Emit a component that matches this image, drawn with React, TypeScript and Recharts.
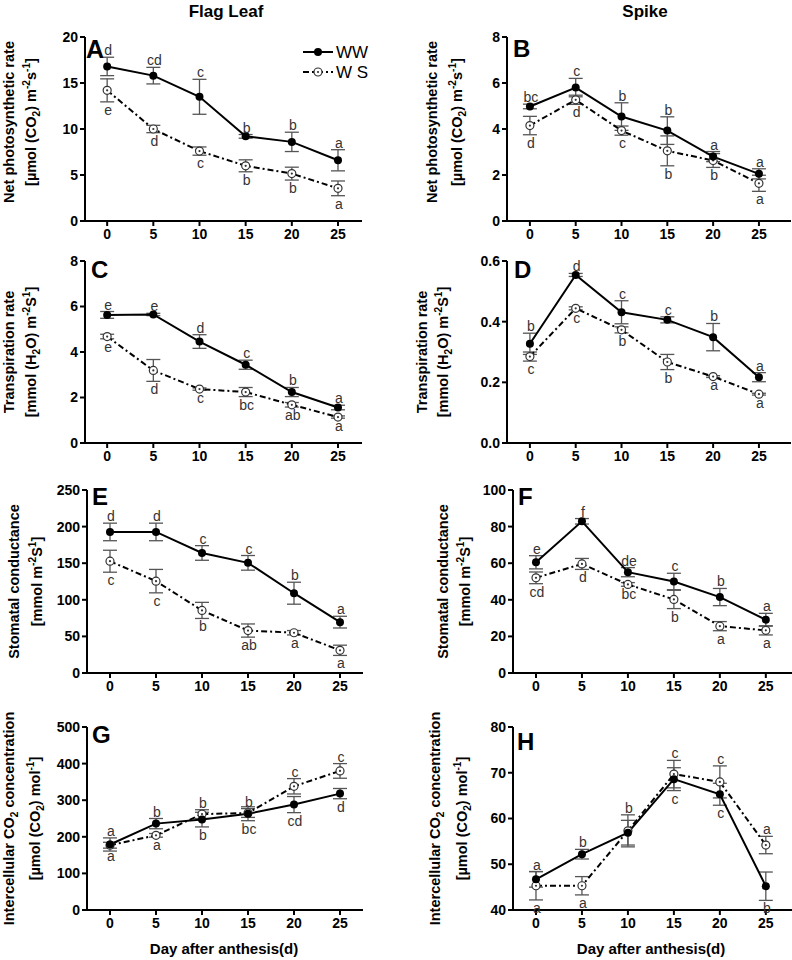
import React from 'react';
import { LineChart, Line, XAxis, YAxis, ErrorBar, Legend } from 'recharts';

// ---------- data ----------
const days = [0, 5, 10, 15, 20, 25];

// A: Flag leaf net photosynthetic rate
const pnLeafWW = [16.8, 15.8, 13.5, 9.2, 8.6, 6.6];
const pnLeafWWErr = [1.0, 0.9, 1.9, 0.2, 1.05, 1.15];
const pnLeafWS = [14.2, 10.0, 7.6, 6.0, 5.15, 3.55];
const pnLeafWSErr = [1.25, 0.4, 0.45, 0.65, 0.7, 0.8];
const pnLeafWWLetters = ['d', 'cd', 'c', 'b', 'b', 'a'];
const pnLeafWSLetters = ['e', 'd', 'c', 'b', 'b', 'a'];

// B: Spike net photosynthetic rate
const pnSpikeWW = [4.98, 5.8, 4.54, 3.93, 2.8, 2.05];
const pnSpikeWWErr = [0.1, 0.4, 0.6, 0.6, 0.22, 0.22];
const pnSpikeWS = [4.15, 5.27, 3.93, 3.05, 2.63, 1.64];
const pnSpikeWSErr = [0.4, 0.2, 0.2, 0.65, 0.3, 0.35];
const pnSpikeWWLetters = ['bc', 'c', 'b', 'b', 'a', 'a'];
const pnSpikeWSLetters = ['d', 'd', 'c', 'b', 'b', 'a'];

// C: Flag leaf transpiration rate
const trLeafWW = [5.63, 5.65, 4.46, 3.44, 2.24, 1.56];
const trLeafWWErr = [0.15, 0.05, 0.3, 0.2, 0.2, 0.1];
const trLeafWS = [4.68, 3.19, 2.37, 2.24, 1.68, 1.14];
const trLeafWSErr = [0.1, 0.48, 0.05, 0.2, 0.1, 0.05];
const trLeafWWLetters = ['e', 'e', 'd', 'c', 'b', 'a'];
const trLeafWSLetters = ['e', 'd', 'c', 'bc', 'ab', 'a'];

// D: Spike transpiration rate
const trSpikeWW = [0.327, 0.554, 0.431, 0.406, 0.349, 0.217];
const trSpikeWWErr = [0.035, 0.005, 0.038, 0.01, 0.045, 0.015];
const trSpikeWS = [0.285, 0.444, 0.373, 0.267, 0.219, 0.161];
const trSpikeWSErr = [0.015, 0.005, 0.01, 0.025, 0.003, 0.003];
const trSpikeWWLetters = ['b', 'd', 'c', 'c', 'b', 'a'];
const trSpikeWSLetters = ['c', 'c', 'b', 'b', 'a', 'a'];

// E: Flag leaf stomatal conductance
const gsLeafWW = [192.7, 192.7, 164, 150.5, 109, 69.5];
const gsLeafWWErr = [12, 12, 10, 10, 15, 8];
const gsLeafWS = [152.7, 125.5, 85.5, 58, 55, 31];
const gsLeafWSErr = [15, 16, 11, 9, 3, 7];
const gsLeafWWLetters = ['d', 'd', 'c', 'c', 'b', 'a'];
const gsLeafWSLetters = ['c', 'c', 'b', 'ab', 'a', 'a'];

// F: Spike stomatal conductance
const gsSpikeWW = [60.5, 82.9, 55.1, 50, 41.5, 29.1];
const gsSpikeWWErr = [3.6, 1.5, 2.5, 4.5, 4.7, 3.5];
const gsSpikeWS = [52, 59.6, 48.4, 40.2, 25.6, 23.3];
const gsSpikeWSErr = [3.2, 3, 1, 5, 2.5, 2.5];
const gsSpikeWWLetters = ['e', 'f', 'de', 'c', 'b', 'a'];
const gsSpikeWSLetters = ['cd', 'd', 'bc', 'b', 'a', 'a'];

// G: Flag leaf intercellular CO2
const ciLeafWW = [179, 236, 247, 263, 288, 318];
const ciLeafWWErr = [18, 14, 20, 19, 22, 14];
const ciLeafWS = [177, 204, 262, 265, 338, 380];
const ciLeafWSErr = [8, 5, 12, 12, 21, 20];
const ciLeafWWLetters = ['a', 'b', 'b', 'bc', 'cd', 'd'];
const ciLeafWSLetters = ['a', 'a', 'b', 'b', 'c', 'c'];

// H: Spike intercellular CO2
const ciSpikeWW = [46.7, 52.2, 56.9, 68.6, 65.3, 45.2];
const ciSpikeWWErr = [1.7, 1.05, 2.7, 2.5, 2.4, 3.1];
const ciSpikeWS = [45.3, 45.3, 57.3, 69.7, 68, 54.2];
const ciSpikeWSErr = [3.1, 2, 3.5, 3, 3.5, 1.9];
const ciSpikeWWLetters = ['a', 'b', '', 'c', 'c', 'b'];
const ciSpikeWSLetters = ['a', 'a', 'b', 'c', 'c', 'a'];

// axis ticks
const ticksA = [0, 5, 10, 15, 20];
const ticksB = [0, 2, 4, 6, 8];
const ticksC = [0, 2, 4, 6, 8];
const ticksD = [0, 0.2, 0.4, 0.6];
const ticksE = [0, 50, 100, 150, 200, 250];
const ticksF = [0, 20, 40, 60, 80, 100];
const ticksG = [0, 100, 200, 300, 400, 500];
const ticksH = [40, 50, 60, 70, 80];

const seriesNames = ['WW', 'W S'];
const columnTitles = ['Flag Leaf', 'Spike'];
const xTitle = 'Day after anthesis(d)';

type Seg = { t: string; s?: 'sub' | 'sup' };
const titlePn: Seg[][] = [
  [{ t: 'Net photosynthetic rate' }],
  [{ t: '[µmol (CO' }, { t: '2', s: 'sub' }, { t: ') m' }, { t: '-2', s: 'sup' }, { t: 's' }, { t: '-1', s: 'sup' }, { t: ']' }],
];
const titleTr: Seg[][] = [
  [{ t: 'Transpiration rate' }],
  [{ t: '[mmol (H' }, { t: '2', s: 'sub' }, { t: 'O) m' }, { t: '-2', s: 'sup' }, { t: 'S' }, { t: '1', s: 'sup' }, { t: ']' }],
];
const titleGs: Seg[][] = [
  [{ t: 'Stomatal conductance' }],
  [{ t: '[mmol m' }, { t: '-2', s: 'sup' }, { t: 'S' }, { t: '1', s: 'sup' }, { t: ']' }],
];
const titleCi: Seg[][] = [
  [{ t: 'Intercellular CO' }, { t: '2', s: 'sub' }, { t: ' concentration' }],
  [{ t: '[µmol (CO' }, { t: '2', s: 'sub' }, { t: ') mol' }, { t: '-1', s: 'sup' }, { t: ']' }],
];

// ---------- styling / layout ----------
const FONT = '"Liberation Sans", Arial, Helvetica, sans-serif';
const ERR_COLOR = '#555';
const LETTER_COLOR = '#333';

type Cfg = {
  letter: string; letterPos: [number, number]; letterSize: number;
  cx: number; cy: number; cw: number; ch: number;
  px: number; py: number; pw: number; ph: number;
  xDomain: [number, number]; yDomain: [number, number]; yTicks: number[]; decimals: number;
  title: Seg[][]; titleX: [number, number]; titleShift: number;
  ww: number[]; wwErr: number[]; ws: number[]; wsErr: number[]; wwL: string[]; wsL: string[];
  colTitle?: [string, number]; xTitleX?: number; legend?: boolean;
};

const panels: Cfg[] = [
  {
    letter: 'A', letterPos: [86, 58], letterSize: 25,
    cx: 0, cy: 0, cw: 396, ch: 250, px: 85, py: 37, pw: 277, ph: 184,
    xDomain: [-2.4, 27.6], yDomain: [0, 20], yTicks: ticksA, decimals: 0,
    title: titlePn, titleX: [8.5, 31], titleShift: -7,
    ww: pnLeafWW, wwErr: pnLeafWWErr, ws: pnLeafWS, wsErr: pnLeafWSErr, wwL: pnLeafWWLetters, wsL: pnLeafWSLetters,
    colTitle: [columnTitles[0], 226], legend: true,
  },
  {
    letter: 'B', letterPos: [513, 57], letterSize: 24,
    cx: 396, cy: 0, cw: 410, ch: 250, px: 507, py: 37, pw: 284, ph: 184,
    xDomain: [-2.5, 28.5], yDomain: [0, 8], yTicks: ticksB, decimals: 0,
    title: titlePn, titleX: [432, 457], titleShift: -7,
    ww: pnSpikeWW, wwErr: pnSpikeWWErr, ws: pnSpikeWS, wsErr: pnSpikeWSErr, wwL: pnSpikeWWLetters, wsL: pnSpikeWSLetters,
    colTitle: [columnTitles[1], 645],
  },
  {
    letter: 'C', letterPos: [91, 278], letterSize: 24,
    cx: 0, cy: 245, cw: 396, ch: 225, px: 85, py: 261, pw: 277, ph: 182,
    xDomain: [-2.4, 27.6], yDomain: [0, 8], yTicks: ticksC, decimals: 0,
    title: titleTr, titleX: [9, 31], titleShift: 0,
    ww: trLeafWW, wwErr: trLeafWWErr, ws: trLeafWS, wsErr: trLeafWSErr, wwL: trLeafWWLetters, wsL: trLeafWSLetters,
  },
  {
    letter: 'D', letterPos: [514, 278], letterSize: 24,
    cx: 396, cy: 245, cw: 410, ch: 225, px: 507, py: 261, pw: 284, ph: 182,
    xDomain: [-2.5, 28.5], yDomain: [0, 0.6], yTicks: ticksD, decimals: 1,
    title: titleTr, titleX: [422, 443], titleShift: 0,
    ww: trSpikeWW, wwErr: trSpikeWWErr, ws: trSpikeWS, wsErr: trSpikeWSErr, wwL: trSpikeWWLetters, wsL: trSpikeWSLetters,
  },
  {
    letter: 'E', letterPos: [92, 505], letterSize: 24,
    cx: 0, cy: 470, cw: 396, ch: 230, px: 87, py: 490, pw: 276, ph: 183,
    xDomain: [-2.5, 27.5], yDomain: [0, 250], yTicks: ticksE, decimals: 0,
    title: titleGs, titleX: [14, 37], titleShift: 0,
    ww: gsLeafWW, wwErr: gsLeafWWErr, ws: gsLeafWS, wsErr: gsLeafWSErr, wwL: gsLeafWWLetters, wsL: gsLeafWSLetters,
  },
  {
    letter: 'F', letterPos: [518, 505], letterSize: 24,
    cx: 396, cy: 470, cw: 410, ch: 230, px: 513, py: 490, pw: 285, ph: 183,
    xDomain: [-2.5, 28.5], yDomain: [0, 100], yTicks: ticksF, decimals: 0,
    title: titleGs, titleX: [443, 465], titleShift: 0,
    ww: gsSpikeWW, wwErr: gsSpikeWWErr, ws: gsSpikeWS, wsErr: gsSpikeWSErr, wwL: gsSpikeWWLetters, wsL: gsSpikeWSLetters,
  },
  {
    letter: 'G', letterPos: [92, 743], letterSize: 24,
    cx: 0, cy: 700, cw: 396, ch: 260, px: 87, py: 727, pw: 276, ph: 183,
    xDomain: [-2.5, 27.5], yDomain: [0, 500], yTicks: ticksG, decimals: 0,
    title: titleCi, titleX: [9, 35], titleShift: 0,
    ww: ciLeafWW, wwErr: ciLeafWWErr, ws: ciLeafWS, wsErr: ciLeafWSErr, wwL: ciLeafWWLetters, wsL: ciLeafWSLetters,
    xTitleX: 224,
  },
  {
    letter: 'H', letterPos: [517, 750], letterSize: 24,
    cx: 396, cy: 700, cw: 410, ch: 260, px: 513, py: 727, pw: 285, ph: 183,
    xDomain: [-2.5, 28.5], yDomain: [40, 80], yTicks: ticksH, decimals: 0,
    title: titleCi, titleX: [435, 462], titleShift: 0,
    ww: ciSpikeWW, wwErr: ciSpikeWWErr, ws: ciSpikeWS, wsErr: ciSpikeWSErr, wwL: ciSpikeWWLetters, wsL: ciSpikeWSLetters,
    xTitleX: 651,
  },
];

const YW = 40;
const XH = 25;

function SegText(props: { x: number; y: number; segs: Seg[]; size: number; rotate?: boolean; weight?: string | number }) {
  const { x, y, segs, size, rotate, weight } = props;
  let cur = 0;
  const spans = segs.map((sg, i) => {
    const target = sg.s === 'sub' ? size * 0.3 : sg.s === 'sup' ? -size * 0.4 : 0;
    const dy = target - cur;
    cur = target;
    return (
      <tspan key={i} dy={dy} fontSize={sg.s ? size * 0.7 : size}>
        {sg.t}
      </tspan>
    );
  });
  return (
    <text
      x={x}
      y={y}
      transform={rotate ? `rotate(-90 ${x} ${y})` : undefined}
      textAnchor="middle"
      fontSize={size}
      fontWeight={weight ?? 'bold'}
      fontFamily={FONT}
      fill="#000"
    >
      {spans}
    </text>
  );
}

function WSMarker({ cx, cy }: { cx: number; cy: number }) {
  return (
    <g>
      <circle cx={cx} cy={cy} r={4} fill="#fff" stroke="#333" strokeWidth={1.2} />
      <circle cx={cx} cy={cy} r={1.1} fill="#333" />
    </g>
  );
}

function LegendContent() {
  return (
    <svg width={90} height={42} style={{ display: 'block', overflow: 'visible' }}>
      <line x1={3} y1={10} x2={33} y2={10} stroke="#000" strokeWidth={2} />
      <circle cx={18} cy={10} r={4} fill="#000" />
      <text x={36} y={16} fontSize={17} fontFamily={FONT} fill="#000">{seriesNames[0]}</text>
      <line x1={3} y1={30} x2={33} y2={30} stroke="#000" strokeWidth={2} strokeDasharray="6 3 2 3" />
      <WSMarker cx={18} cy={30} />
      <text x={36} y={36} fontSize={17} fontFamily={FONT} fill="#000">{seriesNames[1]}</text>
    </svg>
  );
}

function Panel({ cfg }: { cfg: Cfg }) {
  const rows = days.map((d, i) => ({
    day: d,
    ww: cfg.ww[i],
    wwErr: cfg.wwErr[i],
    ws: cfg.ws[i],
    wsErr: cfg.wsErr[i],
  }));
  const ppu = cfg.ph / (cfg.yDomain[1] - cfg.yDomain[0]);
  const ox = cfg.cx;
  const oy = cfg.cy;
  const margin = {
    left: cfg.px - cfg.cx - YW,
    top: cfg.py - cfg.cy,
    right: cfg.cx + cfg.cw - cfg.px - cfg.pw,
    bottom: cfg.cy + cfg.ch - cfg.py - cfg.ph - XH,
  };

  const letterEl = (series: 'ww' | 'ws', index: number, x: number, y: number) => {
    const r = rows[index];
    const letters = series === 'ww' ? cfg.wwL : cfg.wsL;
    const txt = letters[index];
    if (!txt) return null;
    const mine = series === 'ww' ? r.ww : r.ws;
    const other = series === 'ww' ? r.ws : r.ww;
    const err = (series === 'ww' ? r.wwErr : r.wsErr) * ppu;
    const above = series === 'ww' ? mine >= other : mine > other;
    const ty = above ? y - err - 2 : y + err + 13;
    return (
      <text x={x + 1} y={ty} textAnchor="middle" fontSize={14} fontFamily={FONT} fill={LETTER_COLOR}>
        {txt}
      </text>
    );
  };

  const renderWW = (p: any) => (
    <g key={`ww-${p.index}`}>
      <circle cx={p.cx} cy={p.cy} r={4} fill="#000" />
      {letterEl('ww', p.index, p.cx, p.cy)}
    </g>
  );
  const renderWS = (p: any) => (
    <g key={`ws-${p.index}`}>
      <WSMarker cx={p.cx} cy={p.cy} />
      {letterEl('ws', p.index, p.cx, p.cy)}
    </g>
  );

  const decor = () => {
    const midY = cfg.py + cfg.ph / 2 + cfg.titleShift - oy;
    return (
      <g>
        {cfg.title.map((segs, i) => (
          <SegText key={i} x={cfg.titleX[i] + 5 - ox} y={midY} segs={segs} size={14.5} rotate />
        ))}
        <text
          x={cfg.letterPos[0] - ox}
          y={cfg.letterPos[1] - oy}
          fontSize={cfg.letterSize}
          fontWeight="bold"
          fontFamily={FONT}
          fill="#000"
        >
          {cfg.letter}
        </text>
        {cfg.colTitle && (
          <text x={cfg.colTitle[1] - ox} y={17 - oy} textAnchor="middle" fontSize={17} fontWeight="bold" fontFamily={FONT} fill="#000">
            {cfg.colTitle[0]}
          </text>
        )}
        {cfg.xTitleX !== undefined && (
          <text x={cfg.xTitleX - ox} y={954 - oy} textAnchor="middle" fontSize={15} fontWeight="bold" fontFamily={FONT} fill="#000">
            {xTitle}
          </text>
        )}
      </g>
    );
  };

  const tickStyle = { fontSize: 14, fontWeight: 'bold', fontFamily: FONT, fill: '#000' } as any;

  return (
    <div style={{ position: 'absolute', left: cfg.cx, top: cfg.cy }}>
      <LineChart width={cfg.cw} height={cfg.ch} data={rows} margin={margin}>
        <XAxis
          dataKey="day"
          type="number"
          domain={cfg.xDomain}
          ticks={days}
          interval={0}
          height={XH}
          tickSize={5}
          tickMargin={3}
          axisLine={{ stroke: '#000', strokeWidth: 2 }}
          tickLine={{ stroke: '#000', strokeWidth: 2 }}
          tick={tickStyle}
        />
        <YAxis
          type="number"
          domain={cfg.yDomain}
          ticks={cfg.yTicks}
          interval={0}
          width={YW}
          tickSize={5}
          tickMargin={2}
          axisLine={{ stroke: '#000', strokeWidth: 2 }}
          tickLine={{ stroke: '#000', strokeWidth: 2 }}
          tick={tickStyle}
          tickFormatter={(v: number) => v.toFixed(cfg.decimals)}
          label={decor}
        />
        <Line
          dataKey="ws"
          name={seriesNames[1]}
          stroke="#000"
          strokeWidth={2}
          strokeDasharray="6 3 2 3"
          dot={renderWS}
          activeDot={false}
          isAnimationActive={false}
        >
          <ErrorBar dataKey="wsErr" width={7} stroke={ERR_COLOR} strokeWidth={1.3} direction="y" isAnimationActive={false} />
        </Line>
        <Line
          dataKey="ww"
          name={seriesNames[0]}
          stroke="#000"
          strokeWidth={2}
          dot={renderWW}
          activeDot={false}
          isAnimationActive={false}
        >
          <ErrorBar dataKey="wwErr" width={7} stroke={ERR_COLOR} strokeWidth={1.3} direction="y" isAnimationActive={false} />
        </Line>
        {cfg.legend && (
          <Legend
            layout="horizontal"
            verticalAlign="middle"
            align="center"
            wrapperStyle={{ left: 300 - ox, top: 42 - oy, width: 90, height: 42 }}
            content={() => <LegendContent />}
          />
        )}
      </LineChart>
    </div>
  );
}

export default function App() {
  return (
    <div
      style={{
        position: 'absolute',
        left: 0,
        top: 0,
        width: 792,
        height: 960,
        overflow: 'hidden',
        background: '#fff',
      }}
    >
      {panels.map((p) => (
        <Panel key={p.letter} cfg={p} />
      ))}
    </div>
  );
}
